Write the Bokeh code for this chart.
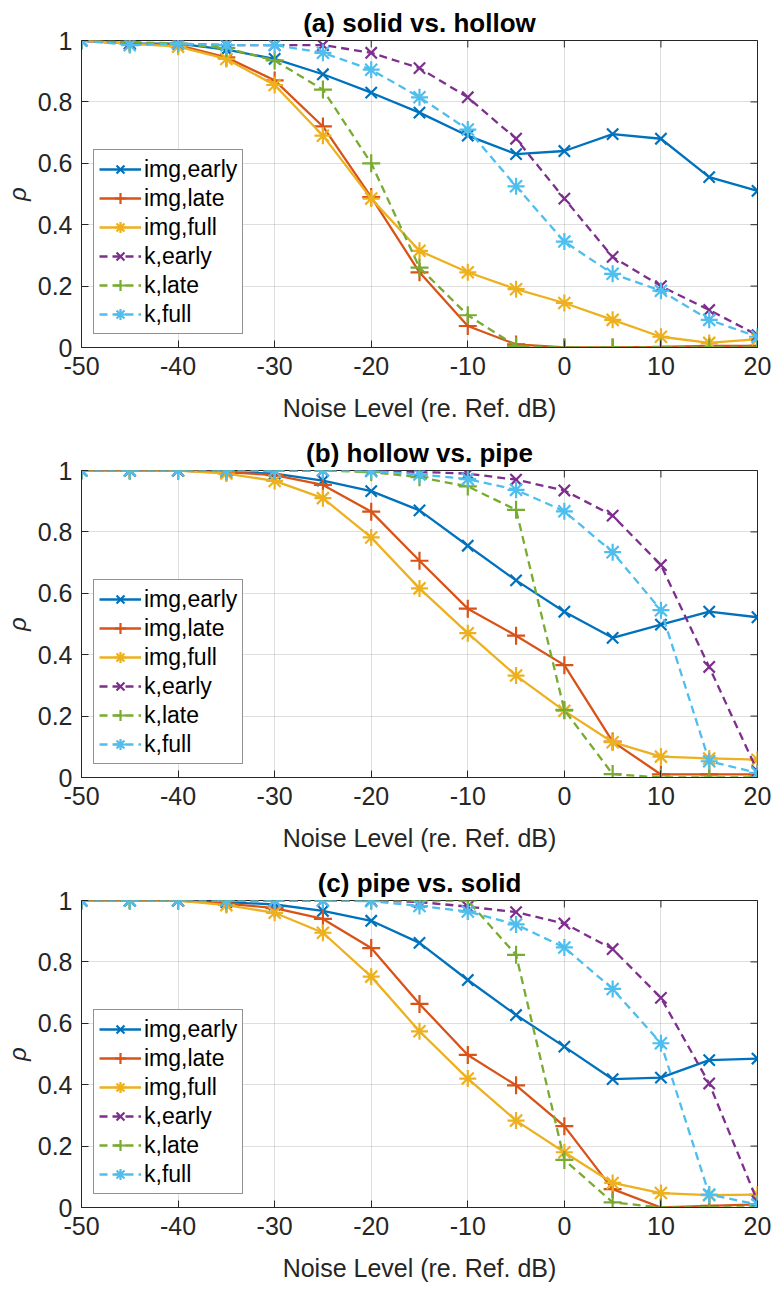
import math
from bokeh.plotting import figure
from bokeh.models import Legend, LegendItem, FixedTicker, Range1d
from bokeh.layouts import column
from bokeh.embed import file_html
from bokeh.resources import INLINE

# ---------------- data ----------------
noise_db = [-50, -45, -40, -35, -30, -25, -20, -15, -10, -5, 0, 5, 10, 15, 20]

series_labels = ["img,early", "img,late", "img,full", "k,early", "k,late", "k,full"]

# (a) solid vs. hollow
a_img_early = [1.00, 0.99, 0.99, 0.97, 0.94, 0.89, 0.83, 0.765, 0.69, 0.63, 0.64, 0.695, 0.68, 0.555, 0.51]
a_img_late = [1.00, 0.99, 0.985, 0.945, 0.87, 0.72, 0.49, 0.245, 0.07, 0.01, 0.0, 0.0, 0.002, 0.005, 0.005]
a_img_full = [1.00, 0.99, 0.98, 0.94, 0.855, 0.69, 0.485, 0.315, 0.245, 0.19, 0.145, 0.09, 0.035, 0.015, 0.027]
a_k_early = [1.00, 0.99, 0.99, 0.985, 0.985, 0.985, 0.96, 0.91, 0.815, 0.68, 0.485, 0.295, 0.20, 0.122, 0.04]
a_k_late = [1.00, 0.995, 0.99, 0.975, 0.935, 0.84, 0.60, 0.26, 0.105, 0.005, 0.0, 0.0, 0.0, 0.0, 0.0]
a_k_full = [1.00, 0.985, 0.99, 0.985, 0.985, 0.96, 0.905, 0.815, 0.71, 0.525, 0.345, 0.24, 0.185, 0.09, 0.035]

# (b) hollow vs. pipe
b_img_early = [1.00, 1.00, 1.00, 0.995, 0.99, 0.967, 0.933, 0.87, 0.755, 0.642, 0.54, 0.455, 0.498, 0.54, 0.522]
b_img_late = [1.00, 1.00, 1.00, 0.995, 0.985, 0.953, 0.866, 0.706, 0.55, 0.462, 0.366, 0.117, 0.01, 0.01, 0.01]
b_img_full = [1.00, 1.00, 1.00, 0.99, 0.966, 0.91, 0.782, 0.616, 0.47, 0.332, 0.217, 0.115, 0.068, 0.062, 0.058]
b_k_early = [1.00, 1.00, 1.00, 1.00, 1.00, 1.00, 1.00, 0.995, 0.99, 0.97, 0.935, 0.853, 0.692, 0.36, 0.02]
b_k_late = [1.00, 1.00, 1.00, 1.00, 1.00, 1.00, 0.995, 0.978, 0.948, 0.872, 0.22, 0.011, 0.0, 0.0, 0.0]
b_k_full = [1.00, 1.00, 1.00, 1.00, 1.00, 1.00, 0.998, 0.987, 0.972, 0.937, 0.867, 0.734, 0.545, 0.053, 0.015]

# (c) pipe vs. solid
c_img_early = [1.00, 1.00, 1.00, 0.995, 0.987, 0.966, 0.934, 0.862, 0.741, 0.627, 0.524, 0.418, 0.423, 0.48, 0.485]
c_img_late = [1.00, 1.00, 1.00, 0.99, 0.975, 0.94, 0.845, 0.663, 0.497, 0.398, 0.265, 0.06, 0.0, 0.005, 0.01]
c_img_full = [1.00, 1.00, 1.00, 0.985, 0.96, 0.895, 0.752, 0.574, 0.42, 0.283, 0.18, 0.08, 0.047, 0.04, 0.042]
c_k_early = [1.00, 1.00, 1.00, 1.00, 1.00, 1.00, 1.00, 0.995, 0.98, 0.962, 0.925, 0.842, 0.683, 0.404, 0.02]
c_k_late = [1.00, 1.00, 1.00, 1.00, 1.00, 1.00, 1.00, 1.00, 1.00, 0.823, 0.155, 0.017, 0.0, 0.0, 0.0]
c_k_full = [1.00, 1.00, 1.00, 1.00, 1.00, 1.00, 0.998, 0.982, 0.964, 0.922, 0.847, 0.712, 0.535, 0.042, 0.01]

x_ticks = [-50, -40, -30, -20, -10, 0, 10, 20]
x_tick_labels = ["-50", "-40", "-30", "-20", "-10", "0", "10", "20"]
y_ticks = [0, 0.2, 0.4, 0.6, 0.8, 1]
y_tick_labels = ["0", "0.2", "0.4", "0.6", "0.8", "1"]

panel_titles = ["(a) solid vs. hollow", "(b) hollow vs. pipe", "(c) pipe vs. solid"]
x_label = "Noise Level (re. Ref. dB)"
y_label = "\u03c1"

# ---------------- style ----------------
COLORS = ["#0072BD", "#D95319", "#EDB120", "#7E2F8E", "#77AC30", "#4DBEEE"]
MARKERS = ["x", "cross", "asterisk", "x", "cross", "asterisk"]
DASHES = ["solid", "solid", "solid", "8 5", "8 5", "8 5"]
MSIZE = {"x": 16, "cross": 18, "asterisk": 17}
FONT = "Liberation Sans"
INK = "#262626"
X_MIN, X_MAX = -50, 20
Y_MIN, Y_MAX = 0, 1


def style_axis(ax, ticks, labels):
    ax.ticker = FixedTicker(ticks=ticks)
    ax.major_label_overrides = {t: s for t, s in zip(ticks, labels)}
    ax.minor_tick_line_color = None
    ax.major_tick_in = 7
    ax.major_tick_out = 0
    ax.major_tick_line_color = INK
    ax.major_tick_line_width = 1
    ax.axis_line_color = INK
    ax.axis_line_width = 1
    ax.major_label_text_font = FONT
    ax.major_label_text_font_size = "25px"
    ax.major_label_text_color = INK
    ax.major_label_standoff = 9


def make_panel(title, series):
    p = figure(width=774, height=430, x_range=Range1d(X_MIN, X_MAX), y_range=Range1d(Y_MIN, Y_MAX),
               output_backend="svg", toolbar_location=None,
               min_border_left=81, min_border_right=17, min_border_top=40, min_border_bottom=83)
    p.background_fill_color = "white"
    p.border_fill_color = "white"
    p.outline_line_color = INK
    p.outline_line_width = 1

    p.title.text = title
    p.title.text_font = FONT
    p.title.text_font_size = "26px"
    p.title.text_font_style = "bold"
    p.title.text_color = "#000000"
    p.title.align = "center"
    p.title.standoff = 6

    style_axis(p.xaxis[0], x_ticks, x_tick_labels)
    style_axis(p.yaxis[0], y_ticks, y_tick_labels)
    p.xaxis.axis_label = x_label
    p.xaxis.axis_label_text_font = FONT
    p.xaxis.axis_label_text_font_size = "25px"
    p.xaxis.axis_label_text_font_style = "normal"
    p.xaxis.axis_label_text_color = INK
    p.xaxis.axis_label_standoff = 16
    p.yaxis.axis_label = y_label
    p.yaxis.axis_label_text_font = FONT
    p.yaxis.axis_label_text_font_size = "24px"
    p.yaxis.axis_label_text_font_style = "italic"
    p.yaxis.axis_label_text_color = INK
    p.yaxis.axis_label_standoff = 4

    p.grid.grid_line_color = INK
    p.grid.grid_line_alpha = 0.15
    p.grid.grid_line_width = 1

    # inward ticks on the top and right edges of the box (half of each dash is clipped by the frame)
    p.scatter(x_ticks, [Y_MAX] * len(x_ticks), marker="dash", size=14, angle=math.pi / 2,
              line_color=INK, line_width=1)
    p.scatter([X_MAX] * len(y_ticks), y_ticks, marker="dash", size=14,
              line_color=INK, line_width=1)

    items = []
    for name, ys, col, mk, dash in zip(series_labels, series, COLORS, MARKERS, DASHES):
        ln = p.line(noise_db, ys, line_color=col, line_width=2.3, line_dash=dash)
        sc = p.scatter(noise_db, ys, marker=mk, size=MSIZE[mk], line_color=col,
                       line_width=2.2, fill_color=None)
        items.append(LegendItem(label=name, renderers=[ln, sc]))

    legend = Legend(items=items, location=(12, 13))
    legend.label_text_font = FONT
    legend.label_text_font_size = "23px"
    legend.label_text_color = "#000000"
    legend.glyph_width = 42
    legend.glyph_height = 28
    legend.label_height = 28
    legend.label_standoff = 3
    legend.spacing = 1
    legend.padding = 5
    legend.margin = 0
    legend.border_line_color = INK
    legend.border_line_width = 1
    legend.background_fill_color = "white"
    legend.background_fill_alpha = 1.0
    p.add_layout(legend)
    return p


panels = [
    make_panel(panel_titles[0], [a_img_early, a_img_late, a_img_full, a_k_early, a_k_late, a_k_full]),
    make_panel(panel_titles[1], [b_img_early, b_img_late, b_img_full, b_k_early, b_k_late, b_k_full]),
    make_panel(panel_titles[2], [c_img_early, c_img_late, c_img_full, c_k_early, c_k_late, c_k_full]),
]

layout = column(*panels, spacing=0)
open("out.html", "w").write(file_html(layout, INLINE))
